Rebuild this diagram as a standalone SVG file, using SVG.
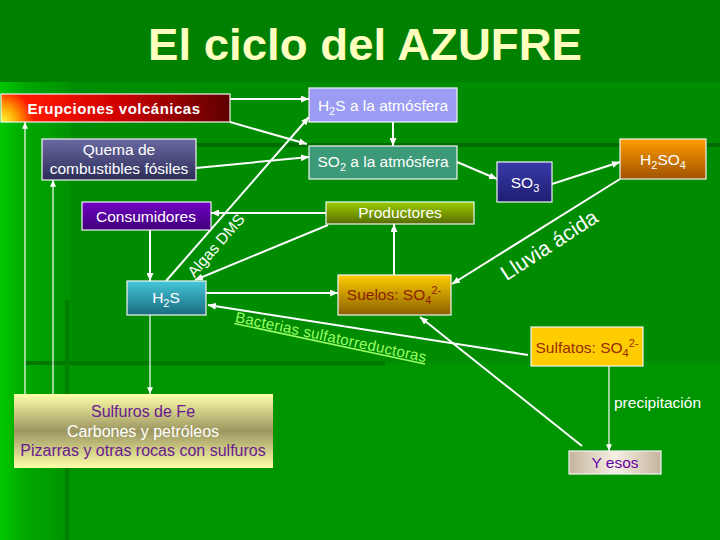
<svg xmlns="http://www.w3.org/2000/svg" width="720" height="540" viewBox="0 0 720 540">
<defs>
<style>
.t{font-family:"Liberation Sans",Arial,sans-serif;font-size:15.5px;fill:#fff;text-anchor:middle}
.box{stroke:#f4f4f4;stroke-width:1.2}
.c line{stroke:#fff;stroke-width:2;marker-end:url(#ah)}
.c line.thin{stroke-width:1.2;marker-end:url(#ahs)}
</style>
<marker id="ah" viewBox="0 0 8 7" refX="8" refY="3.5" markerWidth="8" markerHeight="7" markerUnits="userSpaceOnUse" orient="auto"><path d="M0,0 L8,3.5 L0,7 z" fill="#fff"/></marker>
<marker id="ahs" viewBox="0 0 8 7" refX="8" refY="3.5" markerWidth="7" markerHeight="6" markerUnits="userSpaceOnUse" orient="auto"><path d="M0,0 L8,3.5 L0,7 z" fill="#fff"/></marker>
<linearGradient id="bgl" x1="0" y1="0" x2="1" y2="0"><stop offset="0" stop-color="#00c800"/><stop offset="0.35" stop-color="#00a800"/><stop offset="1" stop-color="#009200"/></linearGradient>
<radialGradient id="gErupt" gradientUnits="userSpaceOnUse" cx="1" cy="122" r="235"><stop offset="0" stop-color="#ffff40"/><stop offset="0.07" stop-color="#ffa000"/><stop offset="0.14" stop-color="#ff1800"/><stop offset="0.5" stop-color="#d00000"/><stop offset="1" stop-color="#580000"/></radialGradient>
<linearGradient id="gQuema" x1="0" y1="0" x2="0" y2="1"><stop offset="0" stop-color="#6a6aa2"/><stop offset="1" stop-color="#2c2c58"/></linearGradient>
<linearGradient id="gSO3" x1="0" y1="0" x2="0" y2="1"><stop offset="0" stop-color="#3a3aaa"/><stop offset="1" stop-color="#1e1e72"/></linearGradient>
<linearGradient id="gH2SO4" x1="0" y1="0" x2="0" y2="1"><stop offset="0" stop-color="#ff9c00"/><stop offset="1" stop-color="#a05200"/></linearGradient>
<linearGradient id="gCons" x1="0" y1="0" x2="0" y2="1"><stop offset="0" stop-color="#7000c4"/><stop offset="1" stop-color="#40007a"/></linearGradient>
<linearGradient id="gProd" x1="0" y1="0" x2="0" y2="1"><stop offset="0" stop-color="#9ccc00"/><stop offset="1" stop-color="#566c00"/></linearGradient>
<linearGradient id="gH2S" x1="0" y1="0" x2="0" y2="1"><stop offset="0" stop-color="#44c8d8"/><stop offset="1" stop-color="#1a6a80"/></linearGradient>
<linearGradient id="gSuelos" x1="0" y1="0" x2="0" y2="1"><stop offset="0" stop-color="#ffcc00"/><stop offset="1" stop-color="#8a6000"/></linearGradient>
<linearGradient id="gYesos" x1="0" y1="0" x2="1" y2="0"><stop offset="0" stop-color="#c4b49c"/><stop offset="0.5" stop-color="#f6f0e4"/><stop offset="1" stop-color="#c4b49c"/></linearGradient>
<linearGradient id="gSulf" x1="0" y1="0" x2="0" y2="1"><stop offset="0" stop-color="#ffffaa"/><stop offset="0.5" stop-color="#9c9660"/><stop offset="1" stop-color="#ffffaa"/></linearGradient>
</defs>

<!-- background -->
<rect x="0" y="0" width="720" height="540" fill="#008c00"/>
<rect x="0" y="0" width="720" height="82" fill="#008000"/>
<rect x="0" y="82" width="70" height="458" fill="url(#bgl)"/>
<rect x="70" y="363" width="650" height="177" fill="#009400"/>
<line x1="197" y1="145" x2="720" y2="145" stroke="#006c00" stroke-width="4"/>
<line x1="25" y1="363" x2="385" y2="363" stroke="#007800" stroke-width="4"/>
<line x1="67" y1="300" x2="67" y2="540" stroke="#007e00" stroke-width="4"/>

<!-- title -->
<text x="365" y="60" font-family="'Liberation Sans',Arial,sans-serif" font-weight="bold" font-size="45" fill="#ffffc0" text-anchor="middle" textLength="434" lengthAdjust="spacingAndGlyphs">El ciclo del AZUFRE</text>

<!-- connectors -->
<g id="connectors" class="c">
<line x1="230" y1="99" x2="309" y2="99"/>
<line x1="230" y1="122" x2="307" y2="144"/>
<line x1="196" y1="168" x2="309" y2="157"/>
<line x1="393" y1="122" x2="393" y2="146"/>
<line x1="166" y1="281" x2="309" y2="117"/>
<line x1="457" y1="162" x2="497" y2="179"/>
<line x1="552" y1="184" x2="620" y2="162"/>
<line x1="620" y1="179" x2="452" y2="284"/>
<line x1="326" y1="213" x2="211" y2="213"/>
<line x1="328" y1="225" x2="195" y2="280"/>
<line x1="394" y1="275" x2="394" y2="224"/>
<line x1="150" y1="230" x2="150" y2="281"/>
<line x1="206" y1="293" x2="338" y2="293"/>
<line x1="528" y1="355" x2="208" y2="305"/>
<line x1="582" y1="446" x2="420" y2="317"/>
<line class="thin" x1="609" y1="366" x2="609" y2="451"/>
<line class="thin" x1="25" y1="394" x2="25" y2="122"/>
<line class="thin" x1="53" y1="394" x2="53" y2="180"/>
<line class="thin" x1="150" y1="315" x2="150" y2="394"/>
</g>

<!-- connector labels -->
<text class="t" x="220" y="249" font-size="15" transform="rotate(-49 220 249)">Algas DMS</text>
<text class="t" x="553" y="251" style="font-size:21px" transform="rotate(-33 553 251)">Lluvia ácida</text>
<text class="t" x="330" y="342" style="fill:#99ff66;font-size:15px;text-decoration:underline;letter-spacing:0.3px" transform="rotate(12 330 342)">Bacterias sulfatorreductoras</text>
<text class="t" x="614" y="408" style="text-anchor:start">precipitación</text>

<!-- nodes -->
<g id="erupciones">
<rect class="box" x="1" y="94" width="229" height="28" fill="url(#gErupt)"/>
<text class="t" x="114" y="114" style="font-weight:bold;font-size:15px;letter-spacing:0.5px">Erupciones volcánicas</text>
</g>
<g id="h2s-atm">
<rect class="box" x="309" y="88" width="148" height="34" fill="#9c9cf4"/>
<text class="t" x="383" y="111">H<tspan dy="4" font-size="11">2</tspan><tspan dy="-4">S a la atmósfera</tspan></text>
</g>
<g id="quema">
<rect class="box" x="42" y="139" width="154" height="41" fill="url(#gQuema)"/>
<text class="t" x="119" y="155">Quema de</text>
<text class="t" x="119" y="174">combustibles fósiles</text>
</g>
<g id="so2-atm">
<rect class="box" x="309" y="146" width="148" height="33" fill="#3c9a78"/>
<text class="t" x="383" y="167">SO<tspan dy="4" font-size="11">2</tspan><tspan dy="-4"> a la atmósfera</tspan></text>
</g>
<g id="so3">
<rect class="box" x="497" y="162" width="55" height="40" fill="url(#gSO3)"/>
<text class="t" x="525" y="188">SO<tspan dy="4" font-size="11">3</tspan></text>
</g>
<g id="h2so4">
<rect class="box" x="620" y="139" width="86" height="40" fill="url(#gH2SO4)"/>
<text class="t" x="663" y="165">H<tspan dy="4" font-size="11">2</tspan><tspan dy="-4">SO</tspan><tspan dy="4" font-size="11">4</tspan></text>
</g>
<g id="consumidores">
<rect class="box" x="82" y="202" width="129" height="28" fill="url(#gCons)"/>
<text class="t" x="146" y="222">Consumidores</text>
</g>
<g id="productores">
<rect class="box" x="326" y="202" width="148" height="22" fill="url(#gProd)"/>
<text class="t" x="400" y="218">Productores</text>
</g>
<g id="h2s">
<rect class="box" x="127" y="281" width="79" height="34" fill="url(#gH2S)"/>
<text class="t" x="166" y="303">H<tspan dy="4" font-size="11">2</tspan><tspan dy="-4">S</tspan></text>
</g>
<g id="suelos">
<rect class="box" x="338" y="275" width="113" height="40" fill="url(#gSuelos)"/>
<text class="t" x="394" y="300" style="fill:#8c1c00">Suelos: SO<tspan dy="4" font-size="11">4</tspan><tspan dy="-10" font-size="11">2-</tspan></text>
</g>
<g id="sulfatos">
<rect class="box" x="531" y="327" width="112" height="39" fill="#ffcc00"/>
<text class="t" x="587" y="353" style="fill:#9a2a00">Sulfatos: SO<tspan dy="4" font-size="11">4</tspan><tspan dy="-10" font-size="11">2-</tspan></text>
</g>
<g id="yesos">
<rect class="box" x="569" y="451" width="92" height="23" fill="url(#gYesos)"/>
<text class="t" x="615" y="468" style="fill:#6a00a8">Y esos</text>
</g>
<g id="sulfuros">
<rect x="14" y="394" width="259" height="74" fill="url(#gSulf)"/>
<text class="t" x="143" y="417" style="fill:#6a1a90;font-size:16px">Sulfuros de Fe</text>
<text class="t" x="143" y="437" style="font-size:16px">Carbones y petróleos</text>
<text class="t" x="143" y="456" style="fill:#6a1a90;font-size:16px">Pizarras y otras rocas con sulfuros</text>
</g>
</svg>
